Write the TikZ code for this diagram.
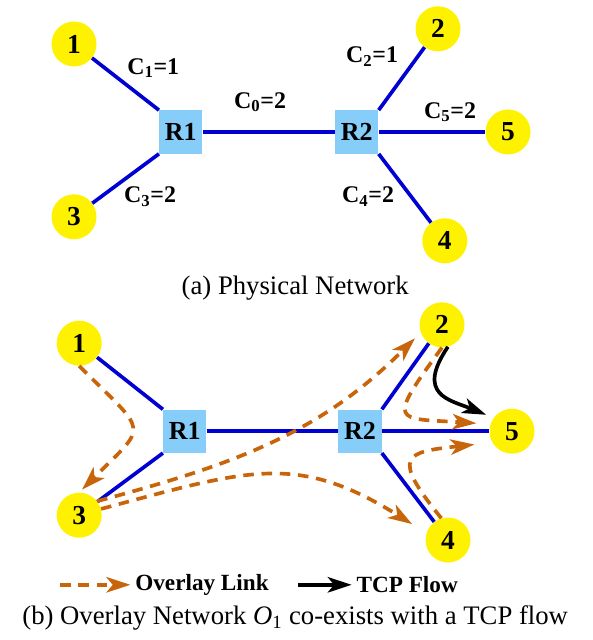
\documentclass[tikz,border=0pt]{standalone}
\usepackage{fontspec}
\setmainfont{Liberation Serif}
\usetikzlibrary{positioning,arrows.meta,shapes}

\definecolor{linkblue}{RGB}{0,0,210}
\definecolor{routerblue}{RGB}{135,205,250}
\definecolor{overlaybrown}{RGB}{200,100,10}

\tikzset{
  host/.style={circle, fill=yellow, minimum size=1.125cm, inner sep=0pt,
    font=\fontsize{19.5}{19.5}\selectfont\bfseries},
  router/.style={rectangle, fill=routerblue, minimum size=1.08cm, inner sep=0pt,
    font=\fontsize{18.5}{18.5}\selectfont\bfseries},
  phys/.style={linkblue, line width=2.6pt},
  cost/.style={font=\fontsize{17}{17}\selectfont\bfseries},
  olink/.style={overlaybrown, line width=2.6pt, dash pattern=on 7.5pt off 5.5pt,
    -{Stealth[length=17pt,width=11pt,inset=4.5pt]}},
  tcp/.style={black, line width=2.6pt,
    -{Stealth[length=17pt,width=11pt,inset=4.5pt]}},
  legend/.style={font=\fontsize{16.5}{16.5}\selectfont\bfseries},
  caption/.style={font=\fontsize{19}{19}\selectfont}
}

\begin{document}
\begin{tikzpicture}
  \useasboundingbox (0,0) rectangle (14.8,-16);

  % (a) physical network
  \node[host] (p1) at (1.85,-1.1) {1};
  \node[host] (p2) at (10.95,-0.72) {2};
  \node[host] (p3) at (1.85,-5.42) {3};
  \node[host] (p4) at (11.12,-6.02) {4};
  \node[host] (p5) at (12.7,-3.3) {5};
  \node[router] (pr1) at (4.52,-3.3) {R1};
  \node[router] (pr2) at (8.92,-3.3) {R2};

  \draw[phys] (p1) -- (pr1.north west);
  \draw[phys] (pr1.south west) -- (p3);
  \draw[phys] (pr1) -- (pr2);
  \draw[phys] (pr2.north east) -- (p2);
  \draw[phys] (pr2) -- (p5);
  \draw[phys] (pr2.south east) -- (p4);

  \node[cost] (c1) at (3.83,-1.7) {C\textsubscript{1}=1};
  \node[cost] (c0) at (6.5,-2.55) {C\textsubscript{0}=2};
  \node[cost] (c2) at (9.3,-1.42) {C\textsubscript{2}=1};
  \node[cost] (c5) at (11.25,-2.8) {C\textsubscript{5}=2};
  \node[cost] (c3) at (3.75,-4.92) {C\textsubscript{3}=2};
  \node[cost] (c4) at (9.2,-4.92) {C\textsubscript{4}=2};

  \node[caption] (capa) at (7.38,-7.2) {(a) Physical Network};

  % (b) overlay network
  \node[host] (v1) at (1.98,-8.58) {1};
  \node[host] (v2) at (11.05,-8.12) {2};
  \node[host] (v3) at (1.98,-12.88) {3};
  \node[host] (v4) at (11.2,-13.5) {4};
  \node[host] (v5) at (12.8,-10.78) {5};
  \node[router] (vr1) at (4.62,-10.78) {R1};
  \node[router] (vr2) at (9.0,-10.78) {R2};

  \draw[phys] (v1) -- (vr1.north west);
  \draw[phys] (vr1.south west) -- (v3);
  \draw[phys] (vr1) -- (vr2);
  \draw[phys] (vr2.north east) -- (v2);
  \draw[phys] (vr2) -- (v5);
  \draw[phys] (vr2.south east) -- (v4);

  \draw[olink, shorten >=0.1cm] (v1.south) to[out=-45,in=45,looseness=2] (v3.north);
  \draw[olink, shorten >=0.2cm] (v3.38) to[out=15,in=-135] (v2.200);
  \draw[olink, shorten >=0.42cm] (v3.16) to[out=15,in=148,looseness=1.2] (v4.162);
  \draw[olink, shorten >=0.35cm] (v2.south) .. controls (9.63,-10.62) and (9.88,-10.45) .. (v5.162);
  \draw[olink, shorten >=0.45cm] (v4.107) .. controls (9.75,-11.38) and (10.13,-11.3) .. (v5.-150);
  \draw[tcp, shorten >=0.2cm] (v2.-75) .. controls (10.38,-9.88) and (11.25,-10.0) .. (v5.144);

  % legend
  \node[legend] (lgo) at (5.05,-14.62) {Overlay Link};
  \node[legend] (lgt) at (10.18,-14.62) {TCP Flow};
  \coordinate (lgos) at (1.5,-14.62);
  \coordinate (lgts) at (7.45,-14.62);
  \draw[olink] (lgos) -- (lgo.west);
  \draw[tcp] (lgts) -- (lgt.west);

  \node[caption] (capb) at (7.38,-15.45) {(b) Overlay Network \textit{O}\textsubscript{1} co-exists with a TCP flow};
\end{tikzpicture}
\end{document}
